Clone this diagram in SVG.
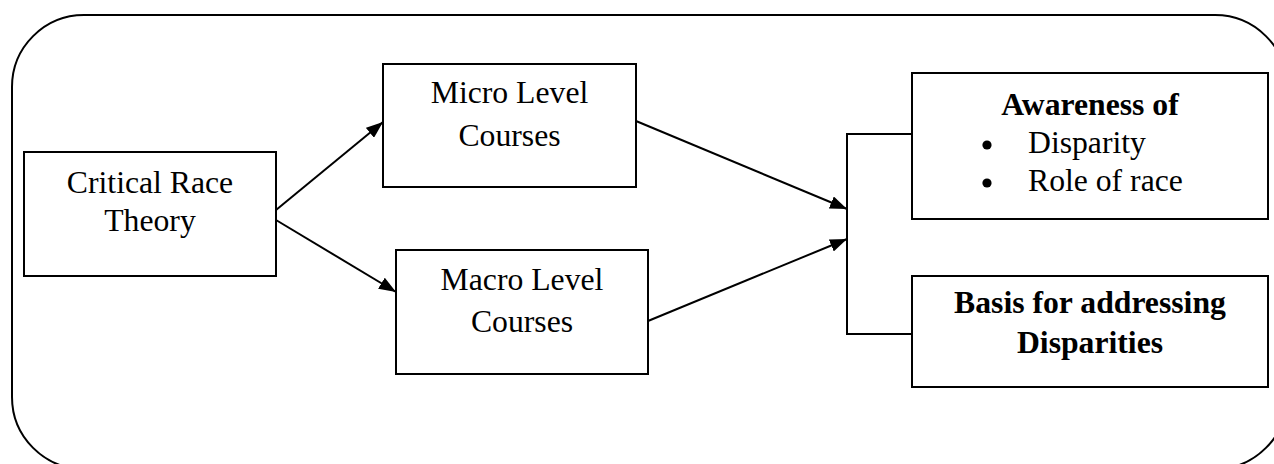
<svg xmlns="http://www.w3.org/2000/svg" width="1274" height="464" viewBox="0 0 1274 464">
  <style>
    .frame { fill: none; stroke: #000; stroke-width: 2; }
    .box { fill: #fff; stroke: #000; stroke-width: 2; }
    .link { fill: none; stroke: #000; stroke-width: 2; }
    text { font-family: "Liberation Serif", "Times New Roman", serif; font-size: 31.7px; fill: #000; }
    .c { text-anchor: middle; }
    .b { font-weight: bold; }
  </style>
  <defs>
    <marker id="arrow" viewBox="0 0 17 13" refX="17" refY="6.5" markerWidth="17" markerHeight="13" markerUnits="userSpaceOnUse" orient="auto">
      <path d="M0,0 L17,6.5 L0,13 z" fill="#000"/>
    </marker>
  </defs>
  <rect width="1274" height="464" fill="#fff"/>

  <!-- outer rounded frame -->
  <rect class="frame" x="12" y="15" width="1275" height="454" rx="72" ry="72"/>

  <g id="connectors">
    <line class="link" x1="276" y1="210" x2="383" y2="122" marker-end="url(#arrow)"/>
    <line class="link" x1="276" y1="220" x2="396" y2="292" marker-end="url(#arrow)"/>
    <line class="link" x1="636" y1="121" x2="847" y2="209" marker-end="url(#arrow)"/>
    <line class="link" x1="648" y1="321" x2="847" y2="239" marker-end="url(#arrow)"/>
    <!-- bracket joining the two outcomes -->
    <path class="link" d="M912,134 H847 V334 H912"/>
  </g>

  <g id="crt">
    <rect class="box" x="24" y="152" width="252" height="124"/>
    <text class="c" x="150" y="193">Critical Race</text>
    <text class="c" x="150" y="231">Theory</text>
  </g>

  <g id="micro">
    <rect class="box" x="383" y="64" width="253" height="123"/>
    <text class="c" x="509.5" y="103">Micro Level</text>
    <text class="c" x="509.5" y="146">Courses</text>
  </g>

  <g id="macro">
    <rect class="box" x="396" y="250" width="252" height="124"/>
    <text class="c" x="522" y="290">Macro Level</text>
    <text class="c" x="522" y="332">Courses</text>
  </g>

  <g id="awareness">
    <rect class="box" x="912" y="73" width="356" height="146"/>
    <text class="c b" x="1090" y="115">Awareness of</text>
    <circle cx="987" cy="145" r="4.6" fill="#000"/>
    <text x="1028" y="153">Disparity</text>
    <circle cx="987" cy="183" r="4.6" fill="#000"/>
    <text x="1028" y="191">Role of race</text>
  </g>

  <g id="basis">
    <rect class="box" x="912" y="276" width="356" height="111"/>
    <text class="c b" x="1090" y="313">Basis for addressing</text>
    <text class="c b" x="1090" y="353">Disparities</text>
  </g>
</svg>
